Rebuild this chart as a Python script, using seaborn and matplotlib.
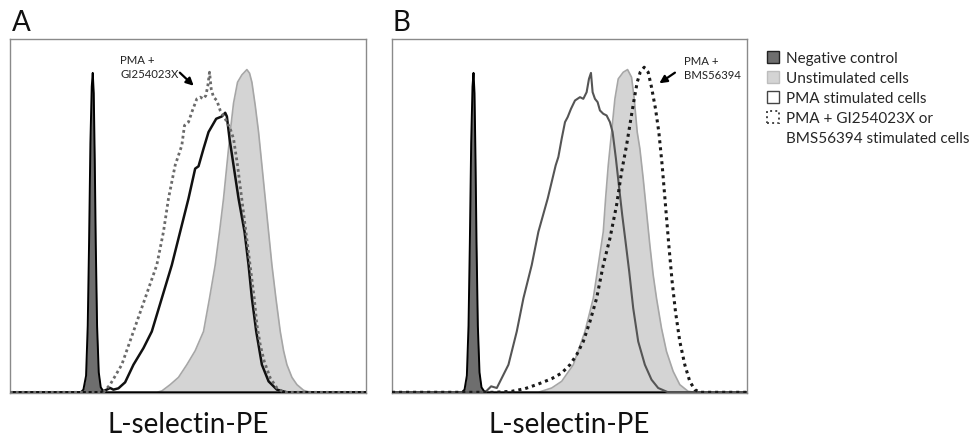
import matplotlib
matplotlib.use("Agg")
import matplotlib.pyplot as plt
import seaborn as sns
import pandas as pd
from matplotlib.patches import Patch

# ---------------- data (arbitrary fluorescence channel / cell count) ----------------
# Panel A
a_neg_x = [0, 212, 220, 228, 233, 237, 241, 245, 248, 251, 254, 257, 261, 266, 272, 280, 290, 1067]
a_neg_y = [0, 0, 8, 50, 200, 450, 750, 920, 961, 900, 700, 450, 200, 60, 15, 3, 0, 0]

a_uns_x = [0, 440, 455, 480, 505, 530, 555, 580, 598, 615, 628, 640, 650, 660, 670, 682, 695, 710,
           718, 725, 735, 745, 755, 765, 775, 785, 797, 810, 820, 830, 845, 860, 880, 900, 1067]
a_uns_y = [0, 0, 4, 23, 45, 83, 125, 183, 283, 383, 483, 583, 683, 783, 870, 933, 955, 971,
           960, 933, 863, 783, 683, 583, 483, 383, 283, 183, 125, 83, 45, 23, 6, 0, 0]

a_pma_x = [0, 270, 290, 300, 310, 325, 345, 370, 400, 425, 455, 485, 510, 535, 555, 565, 580, 595,
           618, 635, 645, 650, 658, 670, 685, 703, 715, 725, 738, 755, 775, 800, 830, 1067]
a_pma_y = [0, 0, 8, 13, 8, 12, 30, 83, 133, 183, 283, 383, 483, 583, 673, 680, 733, 783,
           823, 830, 841, 830, 763, 683, 583, 483, 383, 283, 183, 83, 33, 8, 0, 0]

a_inh_x = [0, 280, 300, 335, 370, 405, 440, 460, 475, 495, 505, 515, 523, 535, 545, 560, 570, 580,
           587, 593, 598, 603, 610, 620, 630, 645, 660, 670, 682, 692, 702, 712, 722, 732, 740,
           750, 762, 780, 800, 820, 1067]
a_inh_y = [0, 0, 23, 83, 183, 283, 383, 483, 583, 683, 713, 743, 803, 813, 843, 883, 888, 883,
           893, 923, 963, 913, 888, 878, 848, 823, 793, 763, 683, 603, 523, 443, 363, 283, 203,
           143, 93, 43, 13, 0, 0]

# Panel B
b_neg_x = [0, 210, 218, 225, 230, 234, 238, 242, 245, 248, 251, 254, 258, 263, 269, 277, 287, 1067]
b_neg_y = [0, 0, 8, 50, 200, 450, 750, 920, 961, 900, 700, 450, 200, 60, 15, 3, 0, 0]

b_uns_x = [0, 440, 480, 510, 545, 580, 605, 620, 635, 642, 650, 660, 670, 680, 695, 708, 720, 728,
           737, 745, 755, 765, 775, 785, 795, 810, 825, 845, 865, 890, 910, 1067]
b_uns_y = [0, 0, 13, 33, 83, 183, 283, 383, 483, 583, 683, 783, 883, 943, 963, 971, 948, 883,
           783, 733, 643, 543, 443, 353, 283, 193, 123, 63, 23, 3, 0, 0]

b_pma_x = [0, 280, 298, 315, 330, 350, 375, 395, 420, 440, 468, 492, 500, 510, 520, 528, 538, 550,
           565, 575, 585, 592, 598, 603, 610, 618, 625, 635, 645, 655, 663, 673, 683, 692, 702,
           713, 725, 740, 760, 780, 800, 830, 1067]
b_pma_y = [0, 0, 18, 13, 43, 83, 183, 283, 383, 483, 583, 683, 708, 763, 813, 828, 853, 878,
           888, 883, 903, 943, 961, 903, 883, 873, 848, 838, 833, 813, 783, 703, 613, 533, 453,
           363, 253, 153, 83, 38, 13, 0, 0]

b_inh_x = [0, 310, 360, 400, 440, 480, 510, 535, 555, 575, 595, 615, 635, 655, 675, 690, 705, 718,
           728, 737, 746, 758, 770, 780, 792, 802, 812, 822, 832, 842, 852, 865, 880, 895, 910,
           925, 1067]
b_inh_y = [0, 0, 3, 11, 25, 41, 58, 83, 113, 153, 213, 283, 383, 463, 563, 663, 743, 823,
           883, 933, 963, 978, 963, 918, 853, 783, 683, 563, 443, 333, 243, 153, 83, 33, 8,
           0, 0]

panel_letters = ["A", "B"]
annotations = ["PMA +\nGI254023X", "PMA +\nBMS56394"]
x_label = "L-selectin-PE"
legend_labels = ["Negative control", "Unstimulated cells", "PMA stimulated cells",
                 "PMA + GI254023X or", "BMS56394 stimulated cells"]

# ---------------- style ----------------
sns.set_theme(style="white")
plt.rcParams["font.family"] = ["Lato", "DejaVu Sans"]

NEG_FILL, NEG_EDGE = "#6e6e6e", "#000000"
UNS_FILL, UNS_EDGE = "#d4d4d4", "#a6a6a6"

fig = plt.figure(figsize=(9.72, 4.39), dpi=100)
ax_a = fig.add_axes([10 / 972, 44.7 / 439, 356 / 972, 354.3 / 439])
ax_b = fig.add_axes([392 / 972, 44.7 / 439, 355 / 972, 354.3 / 439])

panels = [
    dict(ax=ax_a, neg=(a_neg_x, a_neg_y), uns=(a_uns_x, a_uns_y), pma=(a_pma_x, a_pma_y),
         inh=(a_inh_x, a_inh_y), pma_color="#111111", pma_lw=1.8,
         inh_color="#6a6a6a", inh_ls=(0, (1, 1.1)), inh_lw=2.0,
         text_xy=(0.309, 0.958), arrow_tail=(0.477, 0.905), arrow_head=(0.516, 0.868)),
    dict(ax=ax_b, neg=(b_neg_x, b_neg_y), uns=(b_uns_x, b_uns_y), pma=(b_pma_x, b_pma_y),
         inh=(b_inh_x, b_inh_y), pma_color="#555555", pma_lw=1.5,
         inh_color="#1a1a1a", inh_ls=(0, (1, 1.3)), inh_lw=2.2,
         text_xy=(0.822, 0.955), arrow_tail=(0.797, 0.905), arrow_head=(0.753, 0.875)),
]

for i, p in enumerate(panels):
    ax = p["ax"]
    # filled histograms
    ax.fill_between(p["uns"][0], p["uns"][1], color=UNS_FILL, lw=0, zorder=1)
    sns.lineplot(x=p["uns"][0], y=p["uns"][1], ax=ax, sort=False, estimator=None,
                 color=UNS_EDGE, lw=1.2, zorder=2)
    ax.fill_between(p["neg"][0], p["neg"][1], color=NEG_FILL, lw=0, zorder=3)
    sns.lineplot(x=p["neg"][0], y=p["neg"][1], ax=ax, sort=False, estimator=None,
                 color=NEG_EDGE, lw=1.4, zorder=4)
    # open histograms
    sns.lineplot(x=p["pma"][0], y=p["pma"][1], ax=ax, sort=False, estimator=None,
                 color=p["pma_color"], lw=p["pma_lw"], zorder=5)
    sns.lineplot(x=p["inh"][0], y=p["inh"][1], ax=ax, sort=False, estimator=None,
                 color=p["inh_color"], lw=p["inh_lw"], linestyle=p["inh_ls"], zorder=6)

    ax.set_xlim(0, 1067)
    ax.set_ylim(-3, 1063)
    ax.set_xticks([])
    ax.set_yticks([])
    ax.set_ylabel("")
    ax.set_xlabel(x_label, fontsize=20, color="#111111", labelpad=12.5)
    for s in ax.spines.values():
        s.set_visible(True)
        s.set_color("#8a8a8a")
        s.set_linewidth(1.0)

    ax.text(p["text_xy"][0], p["text_xy"][1], annotations[i], transform=ax.transAxes,
            ha="left", va="top", fontsize=8.2, color="#222222", linespacing=1.3)
    ax.annotate("", xy=p["arrow_head"], xytext=p["arrow_tail"], xycoords="axes fraction",
                textcoords="axes fraction",
                arrowprops=dict(arrowstyle="-|>", color="black", lw=1.6, mutation_scale=11,
                                shrinkA=0, shrinkB=0))

fig.text(12 / 972, 1 - 31 / 439, panel_letters[0], fontsize=20, color="#111111", va="baseline")
fig.text(392 / 972, 1 - 31 / 439, panel_letters[1], fontsize=20, color="#111111", va="baseline")

handles = [
    Patch(facecolor=NEG_FILL, edgecolor="#222222", lw=1.0),
    Patch(facecolor=UNS_FILL, edgecolor="#bdbdbd", lw=1.0),
    Patch(facecolor="white", edgecolor="#444444", lw=1.0),
    Patch(facecolor="white", edgecolor="#444444", lw=1.4, linestyle=":"),
    Patch(facecolor="none", edgecolor="none", lw=0),
]
fig.legend(handles, legend_labels, loc="upper left", bbox_to_anchor=(767 / 972, 1 - 52 / 439),
           frameon=False, fontsize=11, handlelength=0.8, handleheight=0.8,
           handletextpad=0.45, labelspacing=0.38, borderpad=0, borderaxespad=0)

fig.savefig("out.png", dpi=100, facecolor="white")
